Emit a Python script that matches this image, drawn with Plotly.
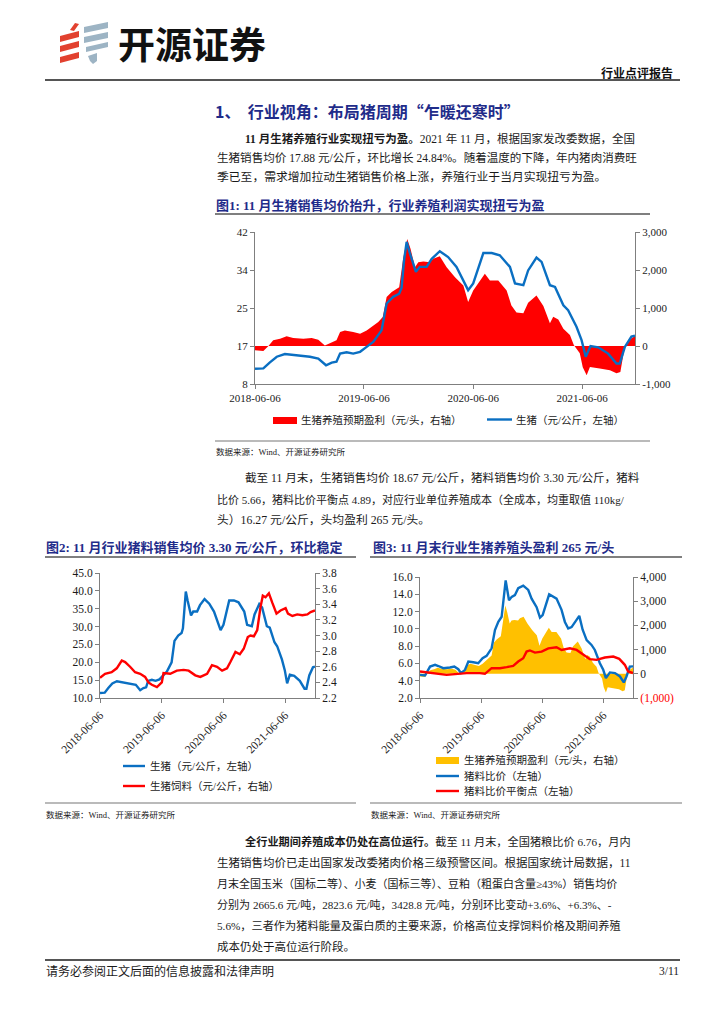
import plotly.graph_objects as go

W, H = 724, 1024
def px(x): return x / W
def py(y): return 1 - y / H

# ---------------- data ----------------
price_dates = ["2018-06-06","2018-07-04","2018-07-25","2018-08-18","2018-09-14","2018-10-24","2018-12-07",
               "2019-01-04","2019-01-30","2019-02-18","2019-03-06","2019-03-18","2019-04-09","2019-05-01",
               "2019-05-24","2019-06-15","2019-07-07","2019-08-04","2019-08-21","2019-09-12","2019-10-02",
               "2019-10-10","2019-10-18","2019-10-27","2019-11-07","2019-11-27","2019-12-10","2020-01-02",
               "2020-01-19","2020-02-15","2020-03-14","2020-04-11","2020-05-20","2020-06-06","2020-07-10",
               "2020-08-07","2020-09-03","2020-10-07","2020-10-24","2020-11-21","2020-12-07","2021-01-04",
               "2021-01-21","2021-02-18","2021-03-07","2021-04-04","2021-04-20","2021-05-18","2021-06-04",
               "2021-06-18","2021-07-04","2021-07-30","2021-09-01","2021-09-29","2021-10-10","2021-10-27",
               "2021-11-18","2021-11-30"]
price_values = [11.4,11.5,12.8,14.1,14.7,14.4,14.1,
                13.7,12.2,12.8,13.0,14.8,15.1,14.8,
                15.2,16.3,17.4,20.0,26.0,27.5,28.2,
                29.5,35.5,39.8,37.2,33.1,34.2,34.2,
                36.0,37.7,36.4,34.2,29.0,30.5,37.3,
                37.3,36.8,34.2,30.5,30.1,33.4,36.3,
                35.3,30.1,29.7,25.6,24.5,20.8,17.8,
                14.1,16.5,16.2,14.8,12.6,12.6,16.3,
                18.6,18.8]

profit_dates = ["2018-06-06","2018-07-04","2018-07-21","2018-08-06","2018-08-29","2018-09-20","2018-10-12",
                "2018-11-15","2018-12-13","2019-01-04","2019-01-26","2019-02-12","2019-03-06","2019-03-18",
                "2019-04-03","2019-05-01","2019-05-24","2019-06-15","2019-07-02","2019-07-24","2019-08-08",
                "2019-08-21","2019-09-07","2019-10-02","2019-10-16","2019-10-29","2019-11-09","2019-11-24",
                "2019-12-05","2019-12-22","2020-01-13","2020-01-24","2020-02-15","2020-03-09","2020-04-06",
                "2020-05-04","2020-05-20","2020-06-06","2020-07-15","2020-08-01","2020-08-29","2020-09-26",
                "2020-10-12","2020-10-29","2020-11-21","2020-12-07","2021-01-04","2021-01-27","2021-02-18",
                "2021-03-01","2021-03-18","2021-04-04","2021-04-26","2021-05-09","2021-05-29","2021-06-08",
                "2021-06-21","2021-07-02","2021-08-04","2021-09-07","2021-09-29","2021-10-12","2021-10-27",
                "2021-11-13","2021-11-30"]
profit_values = [-110,-130,0,150,190,254,210,
                 190,210,166,10,80,150,368,
                 411,368,324,411,516,630,761,
                 1287,1418,1549,2337,2818,2556,2074,
                 2206,2223,2206,2293,2360,2074,1812,
                 1593,1155,1462,1900,1724,1724,1462,
                 1068,880,860,1140,1330,1050,597,
                 772,700,455,290,26,-193,-560,
                 -770,-551,-595,-639,-719,-683,0,
                 175,265]

feed_dates = ["2018-06-06","2018-07-06","2018-08-14","2018-09-13","2018-10-13","2018-11-02","2018-12-01",
              "2018-12-31","2019-01-30","2019-02-28","2019-03-20","2019-04-09","2019-05-09","2019-06-07",
              "2019-06-17","2019-07-27","2019-09-04","2019-10-14","2019-11-13","2019-12-22","2020-01-21",
              "2020-03-01","2020-03-30","2020-04-29","2020-05-29","2020-06-27","2020-07-17","2020-08-16",
              "2020-09-11","2020-10-04","2020-10-28","2020-11-13","2020-12-03","2020-12-23","2021-01-11",
              "2021-01-25","2021-02-10","2021-03-02","2021-03-22","2021-04-16","2021-05-10","2021-06-09",
              "2021-06-23","2021-07-19","2021-08-17","2021-09-16","2021-10-16","2021-11-04","2021-11-30"]
feed_values = [2.46,2.51,2.53,2.58,2.68,2.66,2.60,
               2.53,2.51,2.47,2.40,2.37,2.34,2.40,
               2.52,2.51,2.55,2.56,2.55,2.49,2.47,
               2.51,2.62,2.60,2.55,2.58,2.66,2.79,
               2.76,2.83,2.98,3.00,2.99,3.07,3.36,
               3.51,3.49,3.54,3.42,3.28,3.32,3.35,
               3.28,3.25,3.27,3.26,3.27,3.30,3.32]

ratio_dates = ["2018-06-06","2018-07-06","2018-08-05","2018-09-04","2018-09-24","2018-10-23","2018-12-02",
               "2018-12-28","2019-01-21","2019-02-06","2019-03-02","2019-03-22","2019-04-21","2019-05-20",
               "2019-06-15","2019-07-09","2019-08-08","2019-08-28","2019-09-17","2019-10-07","2019-10-31",
               "2019-11-20","2019-12-06","2019-12-25","2020-01-14","2020-02-13","2020-03-14","2020-04-03",
               "2020-05-03","2020-05-23","2020-06-08","2020-07-17","2020-08-30","2020-09-29","2020-10-19",
               "2020-11-08","2020-11-28","2020-12-24","2021-01-13","2021-02-02","2021-02-26","2021-03-27",
               "2021-04-16","2021-05-16","2021-06-05","2021-06-21","2021-07-15","2021-08-14","2021-09-13",
               "2021-10-06","2021-10-22","2021-11-11","2021-11-30"]
ratio_values = [4.68,4.60,5.64,5.84,5.70,5.45,5.53,
                5.64,5.33,4.88,5.26,6.22,6.14,6.03,
                6.60,6.87,7.75,9.86,10.82,11.40,15.60,
                13.30,13.70,13.90,14.70,15.00,14.50,13.50,
                12.50,11.30,11.60,14.00,13.50,12.20,10.80,
                10.05,10.20,11.00,11.50,9.90,8.70,8.14,
                7.56,6.03,5.26,4.30,4.96,4.88,4.49,
                3.80,4.49,5.64,5.66]

breakeven_dates = ["2018-06-06","2018-07-16","2018-09-14","2018-11-12","2019-01-01","2019-03-12","2019-05-30",
                   "2019-06-29","2019-08-08","2019-09-27","2019-11-06","2019-12-15","2020-01-14","2020-02-13",
                   "2020-03-04","2020-03-24","2020-04-23","2020-06-02","2020-07-12","2020-08-30","2020-09-29",
                   "2020-11-18","2020-12-28","2021-02-06","2021-03-17","2021-04-26","2021-06-15","2021-08-04",
                   "2021-09-09","2021-10-12","2021-11-01","2021-11-30"]
breakeven_values = [5.07,4.95,4.80,4.68,4.76,4.88,4.88,
                    4.80,5.45,5.45,5.57,5.72,6.22,6.60,
                    7.37,7.50,7.25,7.37,7.75,7.87,7.56,
                    7.75,7.56,6.99,6.49,6.41,6.68,6.80,
                    6.53,5.84,5.07,4.89]

date_ticks = ["2018-06-06", "2019-06-06", "2020-06-06", "2021-06-06"]
x_range = ["2018-06-06", "2021-11-30"]

# ---------------- style ----------------
BLUE = "#0A6FC2"
RED = "#FF0000"
YELLOW = "#FFC000"
NAVY = "#1F2C8A"
AX = "#7F7F7F"
TXT = "#1A1A1A"
BODY = "Liberation Serif, Noto Sans CJK SC"
NUM = "Liberation Serif"

fig = go.Figure()
# chart 1
fig.add_trace(go.Scatter(x=profit_dates, y=profit_values, xaxis="x", yaxis="y", mode="lines",
                         fill="tozeroy", fillcolor=RED, line=dict(width=0, color=RED), hoverinfo="skip"))
fig.add_trace(go.Scatter(x=price_dates, y=price_values, xaxis="x", yaxis="y2", mode="lines",
                         line=dict(width=2.4, color=BLUE), hoverinfo="skip"))
# chart 2
fig.add_trace(go.Scatter(x=price_dates, y=price_values, xaxis="x2", yaxis="y3", mode="lines",
                         line=dict(width=2.4, color=BLUE), hoverinfo="skip"))
fig.add_trace(go.Scatter(x=feed_dates, y=feed_values, xaxis="x2", yaxis="y4", mode="lines",
                         line=dict(width=2.4, color=RED), hoverinfo="skip"))
# chart 3
fig.add_trace(go.Scatter(x=profit_dates, y=profit_values, xaxis="x3", yaxis="y5", mode="lines",
                         fill="tozeroy", fillcolor=YELLOW, line=dict(width=0, color=YELLOW), hoverinfo="skip"))
fig.add_trace(go.Scatter(x=ratio_dates, y=ratio_values, xaxis="x3", yaxis="y6", mode="lines",
                         line=dict(width=2.4, color=BLUE), hoverinfo="skip"))
fig.add_trace(go.Scatter(x=breakeven_dates, y=breakeven_values, xaxis="x3", yaxis="y6", mode="lines",
                         line=dict(width=2.4, color=RED), hoverinfo="skip"))

def axis(**kw):
    d = dict(showline=True, linecolor=AX, linewidth=1, ticks="outside", ticklen=4, tickcolor=AX,
             showgrid=False, zeroline=False, tickfont=dict(family=NUM, size=11.5, color=TXT),
             fixedrange=True)
    d.update(kw)
    return d

ROT = dict(family=NUM, size=11.5, color=TXT)
layout_axes = dict(
    xaxis=axis(domain=[px(255), px(635)], anchor="y", range=x_range, tickvals=date_ticks,
               ticktext=date_ticks, tickangle=0, tickfont=dict(family=NUM, size=11, color=TXT)),
    yaxis=axis(domain=[py(384), py(232)], anchor="x", side="right", range=[-1000, 3000],
               tickvals=[-1000, 0, 1000, 2000, 3000], ticktext=["-1,000", "0", "1,000", "2,000", "3,000"],
               tickfont=dict(family=NUM, size=11, color=TXT)),
    yaxis2=axis(overlaying="y", anchor="x", side="left", range=[8, 42],
                tickvals=[8, 16.5, 25, 33.5, 42], ticktext=["8", "17", "25", "34", "42"],
                tickfont=dict(family=NUM, size=11, color=TXT)),
    xaxis2=axis(domain=[px(100), px(315)], anchor="y3", range=x_range, tickvals=date_ticks,
                ticktext=date_ticks, tickangle=-45, tickfont=ROT, ticklabelstandoff=1),
    yaxis3=axis(domain=[py(698), py(573)], anchor="x2", side="left", range=[10, 45],
                tickvals=[10, 15, 20, 25, 30, 35, 40, 45], tickformat=".1f"),
    yaxis4=axis(overlaying="y3", anchor="x2", side="right", range=[2.2, 3.8],
                tickvals=[2.2, 2.4, 2.6, 2.8, 3.0, 3.2, 3.4, 3.6, 3.8], tickformat=".1f"),
    xaxis3=axis(domain=[px(420), px(633)], anchor="y5", range=x_range, tickvals=date_ticks,
                ticktext=date_ticks, tickangle=-45, tickfont=ROT, ticklabelstandoff=1),
    yaxis5=axis(domain=[py(698), py(577)], anchor="x3", side="right", range=[-1000, 4000],
                tickvals=[-1000, 0, 1000, 2000, 3000, 4000],
                ticktext=['<span style="color:#FF0000">(1,000)</span>', "0", "1,000", "2,000", "3,000", "4,000"]),
    yaxis6=axis(overlaying="y5", anchor="x3", side="left", range=[2, 16],
                tickvals=[2, 4, 6, 8, 10, 12, 14, 16], tickformat=".1f"),
)

annotations = []
def text(x, y, s, size=11.55, color=TXT, anchor="left", family=BODY):
    annotations.append(dict(x=px(x), y=py(y), xref="paper", yref="paper", text=s, showarrow=False,
                            xanchor=anchor, yanchor="middle", font=dict(size=size, color=color, family=family)))

shapes = []
def hline(x0, x1, y, color="#555555", width=1.5):
    shapes.append(dict(type="line", xref="paper", yref="paper", x0=px(x0), x1=px(x1), y0=py(y), y1=py(y),
                       line=dict(color=color, width=width)))
def poly(points, color):
    path = "M " + " L ".join(f"{px(a):.5f},{py(b):.5f}" for a, b in points) + " Z"
    shapes.append(dict(type="path", xref="paper", yref="paper", path=path, fillcolor=color,
                       line=dict(width=0)))
def rect(x0, x1, y0, y1, color):
    shapes.append(dict(type="rect", xref="paper", yref="paper", x0=px(x0), x1=px(x1), y0=py(y1), y1=py(y0),
                       fillcolor=color, line=dict(width=0)))

# ---------------- header ----------------
LR = "#E2412F"
LB = "#9DB4C4"
poly([(70, 30), (75, 23), (79, 24), (74, 31)], LR)
poly([(60, 42), (60, 36), (79, 31), (79, 37)], LR)
poly([(60, 52), (60, 46), (79, 41), (79, 47)], LR)
poly([(60, 63), (60, 57), (79, 52), (79, 58)], LR)
poly([(84, 33), (84, 27), (108, 22), (108, 28)], LB)
poly([(84, 43), (84, 37), (108, 32), (108, 38)], LB)
poly([(86, 52), (86, 47), (108, 42), (108, 47)], LB)
poly([(88, 56), (97, 53), (97, 61), (93, 64), (90, 61)], LB)
text(116, 43, "<b>开源证券</b>", size=37, color="#111111", family="Noto Sans CJK SC")
text(675, 73, "<b>行业点评报告</b>", size=12, color="#111111", anchor="right")
hline(45, 680, 80, color="#555555", width=2)

# ---------------- section 1 ----------------
text(213, 111, "<b>1、  行业视角：布局猪周期“乍暖还寒时”</b>", size=16, color=NAVY,
     family="Noto Sans CJK SC")
text(243, 138, "<b>11 月生猪养殖行业实现扭亏为盈。</b>2021 年 11 月，根据国家发改委数据，全国", size=11.5)
text(215, 157.5, "生猪销售均价 17.88 元/公斤，环比增长 24.84%。随着温度的下降，年内猪肉消费旺", size=11.55)
text(215, 177, "季已至，需求增加拉动生猪销售价格上涨，养殖行业于当月实现扭亏为盈。", size=11.8)

text(214, 205, "<b>图1: 11 月生猪销售均价抬升，行业养殖利润实现扭亏为盈</b>", size=13, color=NAVY)
hline(215, 650, 214)
# legend chart 1
rect(273, 297, 417, 424, RED)
text(299, 420, "生猪养殖预期盈利（元/头，右轴）", size=10.5)
hline(487, 512, 419.5, color=BLUE, width=2.4)
text(514, 420, "生猪（元/公斤，左轴）", size=10.5)
hline(215, 650, 441, color="#777777", width=1.2)
text(214, 452, "数据来源：Wind、开源证券研究所", size=8.5)

text(243, 478, "截至 11 月末，生猪销售均价 18.67 元/公斤，猪料销售均价 3.30 元/公斤，猪料", size=11.6)
text(215, 499, "比价 5.66，猪料比价平衡点 4.89，对应行业单位养殖成本（全成本，均重取值 110kg/", size=11.0)
text(215, 520, "头）16.27 元/公斤，头均盈利 265 元/头。", size=11.8)

# ---------------- charts 2 & 3 ----------------
text(44, 547, "<b>图2: 11 月行业猪料销售均价 3.30 元/公斤，环比稳定</b>", size=13, color=NAVY)
hline(45, 356, 557)
text(371, 547, "<b>图3: 11 月末行业生猪养殖头盈利 265 元/头</b>", size=13, color=NAVY)
hline(370, 682, 557)

hline(123, 145, 766, color=BLUE, width=2.4)
text(148, 766, "生猪（元/公斤，左轴）", size=10.5)
hline(123, 145, 786, color=RED, width=2.4)
text(148, 786, "生猪饲料（元/公斤，右轴）", size=10.5)

rect(436, 459, 757, 764, YELLOW)
text(462, 760, "生猪养殖预期盈利（元/头，右轴）", size=10.5)
hline(436, 459, 776, color=BLUE, width=2.4)
text(462, 776, "猪料比价（左轴）", size=10.5)
hline(436, 459, 791, color=RED, width=2.4)
text(462, 791, "猪料比价平衡点（左轴）", size=10.5)

hline(45, 356, 803, color="#777777", width=1.2)
hline(370, 682, 803, color="#777777", width=1.2)
text(44, 815, "数据来源：Wind、开源证券研究所", size=8.5)
text(369, 815, "数据来源：Wind、开源证券研究所", size=8.5)

# ---------------- paragraph 3 ----------------
text(243, 841, "<b>全行业期间养殖成本仍处在高位运行。</b>截至 11 月末，全国猪粮比价 6.76，月内", size=11.2)
text(215, 862, "生猪销售均价已走出国家发改委猪肉价格三级预警区间。根据国家统计局数据，11", size=11.5)
text(215, 883, "月末全国玉米（国标二等）、小麦（国标三等）、豆粕（粗蛋白含量≥43%）销售均价", size=11.0)
text(215, 904, "分别为 2665.6 元/吨，2823.6 元/吨，3428.8 元/吨，分别环比变动+3.6%、+6.3%、-", size=11.05)
text(215, 925, "5.6%，三者作为猪料能量及蛋白质的主要来源，价格高位支撑饲料价格及期间养殖", size=11.2)
text(215, 946, "成本仍处于高位运行阶段。", size=11.5)

# ---------------- footer ----------------
hline(45, 680, 960, color="#555555", width=2)
text(44, 971, "请务必参阅正文后面的信息披露和法律声明", size=12)
text(681, 971, "3/11", size=11.5, anchor="right")

fig.update_layout(
    width=W, height=H, margin=dict(l=0, r=0, t=0, b=0), template="none",
    paper_bgcolor="white", plot_bgcolor="rgba(0,0,0,0)", showlegend=False, hovermode=False,
    font=dict(family=BODY, size=12, color=TXT),
    annotations=annotations, shapes=shapes, **layout_axes,
)

fig.write_html("out.html", config={"displayModeBar": False, "staticPlot": True},
               post_script="document.body.style.margin='0';document.body.style.padding='0';")
